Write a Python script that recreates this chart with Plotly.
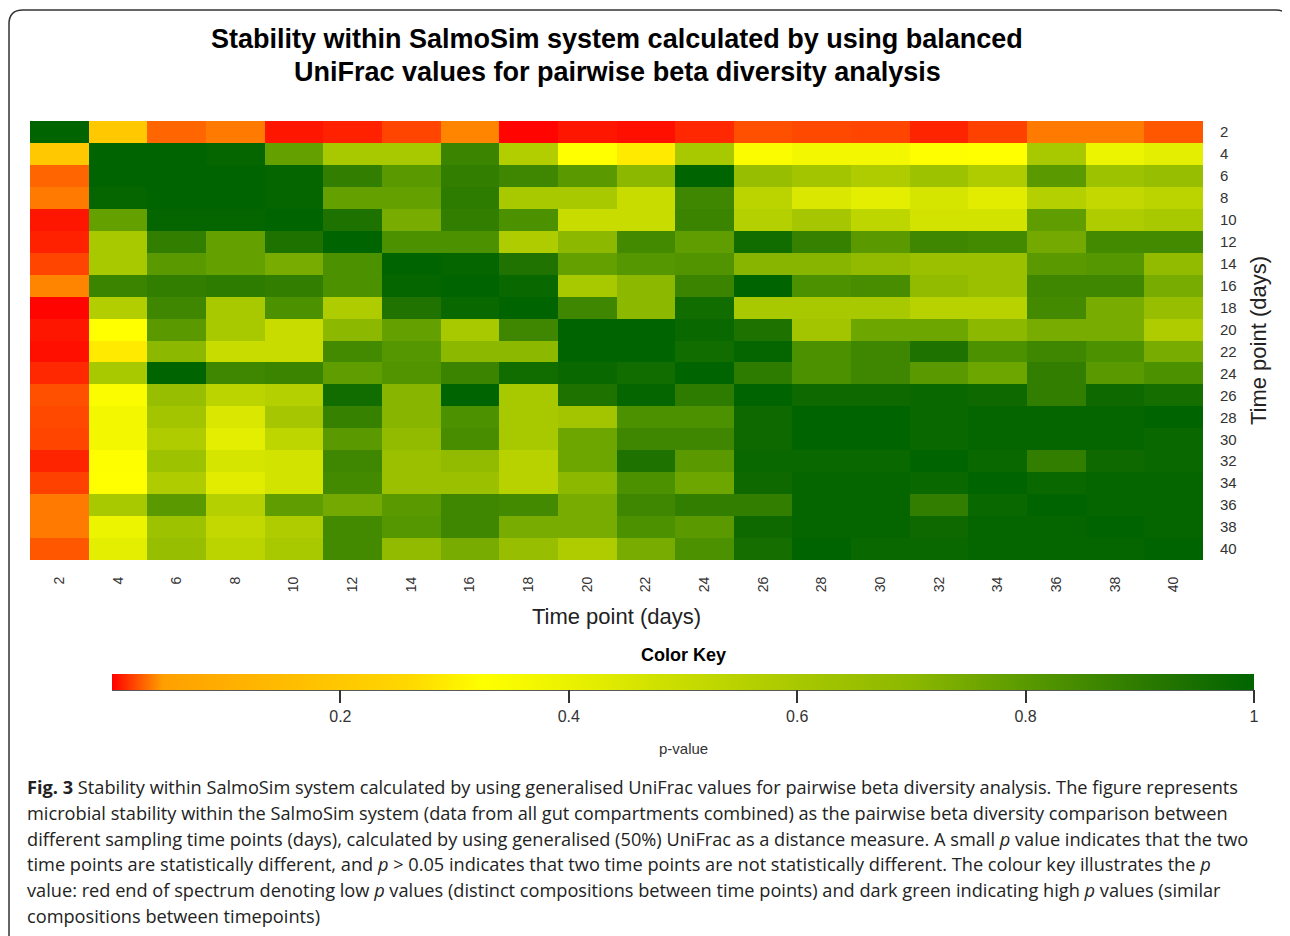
import plotly.graph_objects as go

W, H = 1290, 936
OFF = 8  # page body margin of the html page
FW, FH = W - OFF, H - OFF

time_points = [2, 4, 6, 8, 10, 12, 14, 16, 18, 20, 22, 24, 26, 28, 30, 32, 34, 36, 38, 40]
tick_labels = [str(t) for t in time_points]

# Upper triangle (from diagonal to the right) of the symmetric p-value matrix
row_02 = [1.0, 0.2, 0.028, 0.034, 0.006, 0.009, 0.019, 0.037, 0.001, 0.006, 0.004, 0.011, 0.022, 0.02, 0.019, 0.01, 0.018, 0.034, 0.034, 0.024]
row_04 = [1.0, 1.0, 0.99, 0.78, 0.6, 0.6, 0.87, 0.57, 0.325, 0.29, 0.6, 0.34, 0.37, 0.37, 0.33, 0.325, 0.6, 0.39, 0.42]
row_06 = [1.0, 1.0, 0.99, 0.89, 0.8, 0.89, 0.86, 0.8, 0.7, 1.0, 0.66, 0.62, 0.58, 0.64, 0.58, 0.8, 0.64, 0.66]
row_08 = [1.0, 0.99, 0.78, 0.78, 0.9, 0.6, 0.6, 0.5, 0.86, 0.54, 0.45, 0.42, 0.46, 0.43, 0.56, 0.52, 0.54]
row_10 = [1.0, 0.935, 0.74, 0.89, 0.83, 0.5, 0.5, 0.87, 0.56, 0.61, 0.53, 0.47, 0.47, 0.79, 0.58, 0.6]
row_12 = [1.0, 0.83, 0.83, 0.58, 0.7, 0.85, 0.79, 0.96, 0.88, 0.8, 0.86, 0.85, 0.75, 0.85, 0.85]
row_14 = [1.0, 0.99, 0.93, 0.78, 0.81, 0.82, 0.71, 0.71, 0.68, 0.65, 0.65, 0.8, 0.81, 0.68]
row_16 = [1.0, 0.98, 0.6, 0.7, 0.87, 1.0, 0.83, 0.84, 0.68, 0.65, 0.86, 0.86, 0.74]
row_18 = [1.0, 0.86, 0.7, 0.96, 0.6, 0.6, 0.6, 0.55, 0.55, 0.85, 0.74, 0.66]
row_20 = [1.0, 1.0, 0.98, 0.935, 0.62, 0.76, 0.76, 0.7, 0.74, 0.74, 0.58]
row_22 = [1.0, 0.96, 0.99, 0.83, 0.86, 0.935, 0.83, 0.86, 0.83, 0.74]
row_24 = [1.0, 0.9, 0.83, 0.86, 0.8, 0.76, 0.89, 0.8, 0.83]
row_26 = [1.0, 0.97, 0.97, 0.98, 0.97, 0.89, 0.97, 0.955]
row_28 = [1.0, 1.0, 0.98, 0.99, 0.99, 0.99, 1.0]
row_30 = [1.0, 0.98, 0.99, 0.99, 0.99, 0.98]
row_32 = [1.0, 0.98, 0.89, 0.97, 0.98]
row_34 = [1.0, 0.98, 0.99, 0.99]
row_36 = [1.0, 0.99, 0.99]
row_38 = [1.0, 0.99]
row_40 = [1.0]

upper_rows = [row_02, row_04, row_06, row_08, row_10, row_12, row_14, row_16, row_18, row_20,
              row_22, row_24, row_26, row_28, row_30, row_32, row_34, row_36, row_38, row_40]

n = len(time_points)
z = [[None] * n for _ in range(n)]
for i, r in enumerate(upper_rows):
    for k, v in enumerate(r):
        j = i + k
        z[i][j] = v
        z[j][i] = v

colorscale = [
    [0.0, '#ff0000'], [0.022, '#ff5000'], [0.045, '#ffa000'], [0.12, '#ffb400'],
    [0.2, '#ffc800'], [0.26, '#ffd800'], [0.325, '#ffff00'], [0.41, '#e8f000'],
    [0.5, '#c8dc00'], [0.6, '#a8c800'], [0.7, '#8cb800'], [0.8, '#5a9a00'],
    [0.87, '#3a8400'], [0.935, '#1e7200'], [1.0, '#006400'],
]

key_ticks = [0.2, 0.4, 0.6, 0.8, 1.0]
key_labels = ['0.2', '0.4', '0.6', '0.8', '1']


def px(x):
    return (x - OFF) / FW


def py(y):
    return 1 - (y - OFF) / FH


fig = go.Figure()
fig.add_trace(go.Heatmap(
    z=z, x=tick_labels, y=tick_labels, coloraxis='coloraxis',
    xgap=0, ygap=0, hovertemplate='%{x} vs %{y}: %{z}<extra></extra>'))

key_left, key_right, key_top, key_bot = 112, 1254, 674, 690

fig.update_layout(
    width=FW, height=FH,
    margin=dict(l=0, r=0, t=0, b=0),
    paper_bgcolor='white', plot_bgcolor='white',
    font=dict(family='Liberation Sans, Arial, sans-serif', color='black'),
    xaxis=dict(domain=[px(30), px(1203)], type='category', tickangle=-90,
               tickfont=dict(size=14, color='#333'), ticks='', showgrid=False,
               zeroline=False, showline=False, automargin=False, ticklabelstandoff=13,
               title=dict(text='Time point (days)', font=dict(size=22, color='#222'), standoff=17)),
    yaxis=dict(domain=[py(560), py(121)], type='category', autorange='reversed',
               side='right', tickfont=dict(size=15, color='#333'), ticks='', showgrid=False,
               zeroline=False, showline=False, automargin=False, ticklabelstandoff=16,
               title=dict(text='Time point (days)', font=dict(size=22, color='#222'), standoff=14)),
    coloraxis=dict(
        cmin=0, cmax=1, colorscale=colorscale,
        colorbar=dict(
            orientation='h', lenmode='pixels', len=key_right - key_left,
            thickness=key_bot - key_top, thicknessmode='pixels',
            x=px((key_left + key_right) / 2), xanchor='center',
            y=py(key_top), yanchor='top', xpad=0, ypad=0,
            outlinewidth=0, ticks='outside', ticklen=13, tickwidth=1.5, tickcolor='#333',
            tickvals=key_ticks, ticktext=key_labels,
            tickfont=dict(size=16, color='#333'))),
)

shapes = []
# bottom line of colour key
shapes.append(dict(type='line', xref='paper', yref='paper',
                   x0=px(key_left), x1=px(key_right), y0=py(key_bot), y1=py(key_bot),
                   line=dict(color='#222', width=1.5)))
# border of figure box
path = (f"M {px(9)},{py(940)} L {px(9)},{py(24)} Q {px(9)},{py(10)} {px(23)},{py(10)} "
        f"L {px(1276)},{py(10)} Q {px(1289)},{py(10)} {px(1289)},{py(24)} L {px(1289)},{py(40)}")
shapes.append(dict(type='path', xref='paper', yref='paper', path=path,
                   line=dict(color='#333', width=1.5)))
fig.update_layout(shapes=shapes)

ann = []
title_lines = ['Stability within SalmoSim system calculated by using balanced',
               'UniFrac values for pairwise beta diversity analysis']
for k, t in enumerate(title_lines):
    ann.append(dict(text='<b>' + t + '</b>', x=px(617), y=py(39 + 33 * k), xref='paper', yref='paper',
                    showarrow=False, xanchor='center', yanchor='middle',
                    font=dict(size=27, color='black')))
ann.append(dict(text='<b>Color Key</b>', x=px(683), y=py(655), xref='paper', yref='paper',
                showarrow=False, xanchor='center', yanchor='middle',
                font=dict(size=18, color='black')))
ann.append(dict(text='p-value', x=px(683), y=py(748), xref='paper', yref='paper',
                showarrow=False, xanchor='center', yanchor='middle',
                font=dict(size=15, color='#333')))

caption_lines = [
    '<b>Fig. 3</b> Stability within SalmoSim system calculated by using generalised UniFrac values for pairwise beta diversity analysis. The figure represents',
    'microbial stability within the SalmoSim system (data from all gut compartments combined) as the pairwise beta diversity comparison between',
    'different sampling time points (days), calculated by using generalised (50%) UniFrac as a distance measure. A small <i>p</i> value indicates that the two',
    'time points are statistically different, and <i>p</i> &gt; 0.05 indicates that two time points are not statistically different. The colour key illustrates the <i>p</i>',
    'value: red end of spectrum denoting low <i>p</i> values (distinct compositions between time points) and dark green indicating high <i>p</i> values (similar',
    'compositions between timepoints)',
]
for k, line in enumerate(caption_lines):
    ann.append(dict(text=line, x=px(25), y=py(787 + k * 25.8), xref='paper', yref='paper',
                    showarrow=False, xanchor='left', yanchor='middle',
                    font=dict(size=18.2, family='Open Sans, sans-serif', color='#222')))
fig.update_layout(annotations=ann)

fig.write_html('out.html')
